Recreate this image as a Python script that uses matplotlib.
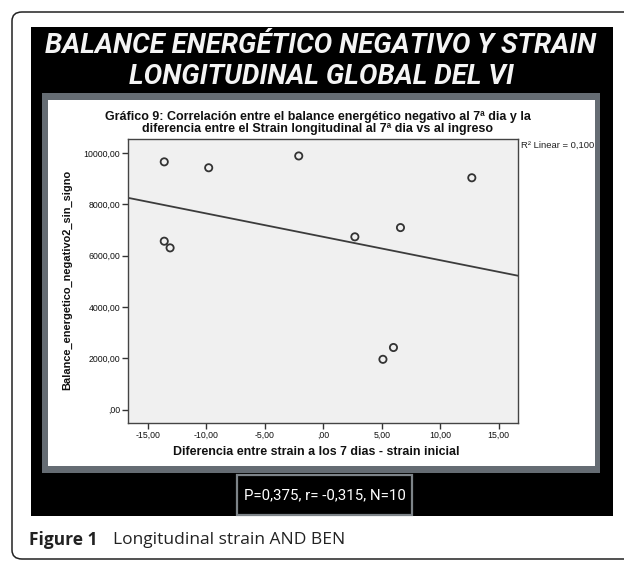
import matplotlib
matplotlib.use("Agg")
import matplotlib.pyplot as plt
import numpy as np
from matplotlib.patches import Rectangle, FancyBboxPatch

# data
strain_diff = [-13.6, -9.8, -2.1, -13.6, -13.1, 2.7, 6.6, 12.7, 6.0, 5.1]
balance = [9650, 9420, 9880, 6560, 6300, 6730, 7090, 9030, 2420, 1960]

x_ticks = [-15, -10, -5, 0, 5, 10, 15]
x_ticklabels = ['-15,00', '-10,00', '-5,00', ',00', '5,00', '10,00', '15,00']
y_ticks = [0, 2000, 4000, 6000, 8000, 10000]
y_ticklabels = [',00', '2000,00', '4000,00', '6000,00', '8000,00', '10000,00']

slide_title = "BALANCE ENERGÉTICO NEGATIVO Y STRAIN\nLONGITUDINAL GLOBAL DEL VI"
chart_title = ("Gráfico 9: Correlación entre el balance energético negativo al 7ª dia y la\n"
               "diferencia entre el Strain longitudinal al 7ª dia vs al ingreso")
x_label = "Diferencia entre strain a los 7 dias - strain inicial"
y_label = "Balance_energetico_negativo2_sin_signo"
r2_text = "R² Linear = 0,100"
stats_text = "P=0,375, r= -0,315, N=10"

W, H = 624, 562


def px(x0, y0, x1, y1):
    """Pixel box (top-left origin) -> figure fraction rect."""
    return [x0 / W, 1 - y1 / H, (x1 - x0) / W, (y1 - y0) / H]


def fx(x):
    return x / W


def fy(y):
    return 1 - y / H


def box(x0, y0, x1, y1, **kw):
    r = Rectangle((fx(x0), fy(y1)), fx(x1) - fx(x0), fy(y0) - fy(y1),
                  transform=fig.transFigure, **kw)
    fig.patches.append(r)
    return r


fig = plt.figure(figsize=(W / 100, H / 100), dpi=100)
fig.patch.set_facecolor("white")

# outer rounded frame
frame = FancyBboxPatch((fx(12), fy(559)), fx(640) - fx(12), fy(12) - fy(559),
                       boxstyle="round,pad=0,rounding_size=0.016",
                       transform=fig.transFigure, facecolor="white",
                       edgecolor="#222222", linewidth=1.1)
fig.patches.append(frame)

# black slide, grey panel, white inner panel
box(31, 27, 613, 516, facecolor="black", edgecolor="none")
box(42, 93, 600, 473, facecolor="#656c73", edgecolor="none")
box(48, 100, 595, 466, facecolor="white", edgecolor="none")
# stats box
box(237, 475, 412, 515, facecolor="black", edgecolor="#7d8388", linewidth=1.6)

fig.text(fx(321), fy(61), slide_title, ha="center", va="center", color="#f4f4f4",
         family="Roboto", weight="bold", style="italic", fontsize=20,
         linespacing=1.22)

fig.text(fx(318), fy(123), chart_title, ha="center", va="center", color="#111111",
         family="Liberation Sans", weight="bold", fontsize=9.0, linespacing=1.0)

ax = fig.add_axes(px(128, 139, 518, 423))
ax.set_zorder(5)
ax.set_facecolor("#f0f0f0")
ax.scatter(strain_diff, balance, s=27, facecolors="none", edgecolors="#333333",
           linewidths=1.3, zorder=3)

xlim = (-16.7, 16.65)
slope, intercept = np.polyfit(strain_diff, balance, 1)
xs = np.array(xlim)
ax.plot(xs, slope * xs + intercept, color="#3c3c3c", linewidth=1.3, zorder=2)

ax.set_xlim(*xlim)
ax.set_ylim(-520, 10540)
ax.set_xticks(x_ticks)
ax.set_xticklabels(x_ticklabels)
ax.set_yticks(y_ticks)
ax.set_yticklabels(y_ticklabels)
ax.tick_params(length=4, width=1, color="#333333", labelsize=6.3,
               labelcolor="#111111", pad=1.5)
for lab in ax.get_xticklabels() + ax.get_yticklabels():
    lab.set_family("Liberation Sans")
for s in ax.spines.values():
    s.set_color("#444444")
    s.set_linewidth(1.0)

fig.text(fx(316), fy(452), x_label, ha="center", va="center", color="#111111",
         family="Liberation Sans", weight="bold", fontsize=8.9)
fig.text(fx(67), fy(280), y_label, ha="center", va="center", rotation=90,
         color="#111111", family="Liberation Sans", weight="bold", fontsize=7.9)
fig.text(fx(521), fy(145), r2_text, ha="left", va="center", color="#222222",
         family="Liberation Sans", fontsize=6.8)

fig.text(fx(325), fy(495), stats_text, ha="center", va="center", color="white",
         family="Roboto", fontsize=10.8, zorder=6)

# caption
fig.text(fx(29), fy(540), "Figure 1", ha="left", va="center", color="#222222",
         family="Open Sans", weight="bold", fontsize=12.5)
fig.text(fx(113), fy(540), "Longitudinal strain AND BEN", ha="left", va="center",
         color="#222222", family="Open Sans", fontsize=12.5)

fig.savefig("out.png", dpi=100, facecolor="white")
